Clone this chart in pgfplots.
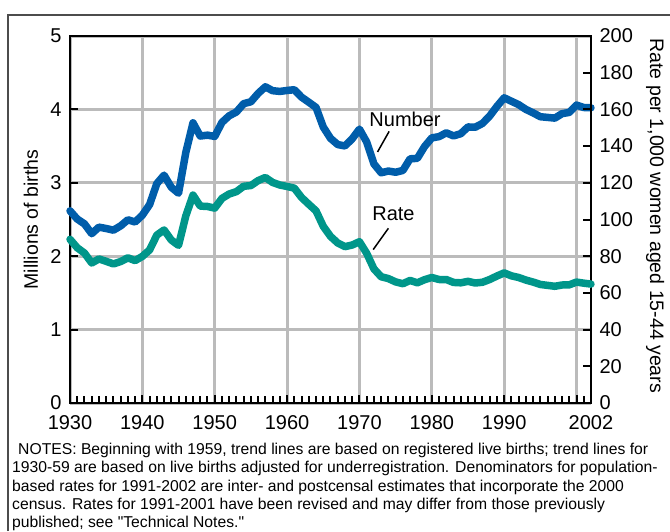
\documentclass[border=0pt]{standalone}
\usepackage{fontspec}
\setmainfont{Liberation Sans}
\usepackage{pgfplots}
\usepackage{pgfplotstable}
\pgfplotsset{compat=1.18}

\definecolor{numblue}{RGB}{0,93,170}
\definecolor{rateteal}{RGB}{0,150,138}
\definecolor{gridgray}{RGB}{187,187,187}

% births in millions, general fertility rate per 1,000 women 15-44
\pgfplotstableread{
year number rate
1930 2.618 89.2
1931 2.506 84.6
1932 2.440 81.7
1933 2.307 76.3
1934 2.396 78.5
1935 2.377 77.2
1936 2.355 75.8
1937 2.413 77.1
1938 2.496 79.1
1939 2.466 77.6
1940 2.559 79.9
1941 2.703 83.4
1942 2.989 91.5
1943 3.104 94.3
1944 2.939 88.8
1945 2.858 85.9
1946 3.411 101.9
1947 3.817 113.3
1948 3.637 107.3
1949 3.649 107.1
1950 3.632 106.2
1951 3.823 111.5
1952 3.913 113.9
1953 3.965 115.2
1954 4.078 118.1
1955 4.104 118.5
1956 4.218 121.2
1957 4.308 122.9
1958 4.255 120.2
1959 4.245 118.8
1960 4.258 118.0
1961 4.268 117.1
1962 4.167 112.0
1963 4.098 108.3
1964 4.027 104.7
1965 3.760 96.3
1966 3.606 90.8
1967 3.521 87.2
1968 3.502 85.2
1969 3.600 86.1
1970 3.731 87.9
1971 3.556 81.6
1972 3.258 73.1
1973 3.137 68.8
1974 3.160 67.8
1975 3.144 66.0
1976 3.168 65.0
1977 3.327 66.8
1978 3.333 65.5
1979 3.494 67.2
1980 3.612 68.4
1981 3.629 67.3
1982 3.681 67.3
1983 3.639 65.7
1984 3.669 65.5
1985 3.761 66.3
1986 3.757 65.4
1987 3.809 65.8
1988 3.910 67.3
1989 4.041 69.2
1990 4.158 70.9
1991 4.111 69.3
1992 4.065 68.4
1993 4.000 67.0
1994 3.953 65.9
1995 3.900 64.6
1996 3.891 64.1
1997 3.881 63.6
1998 3.942 64.3
1999 3.959 64.4
2000 4.059 65.9
2001 4.026 65.3
2002 4.022 64.8
}\births

\pgfplotsset{
  common/.style={
    at={(70pt,128pt)}, anchor=south west,
    scale only axis, width=521pt, height=367pt,
    xmin=1930, xmax=2002,
    major tick length=8pt, minor tick length=7pt,
    every tick/.style={black, line width=2pt},
    axis line style={black, line width=2.5pt},
    ticklabel style={font=\fontsize{20}{24}\selectfont},
    xticklabel shift=9pt, yticklabel shift=5pt,
    /pgf/number format/assume math mode=true,
    clip=false,
  }
}

\begin{document}
\begin{tikzpicture}[x=1pt,y=1pt]
\path[use as bounding box] (0,0) rectangle (670,531);
\draw[line width=1.5pt, black!70] (8,0) -- (8,516) -- (672,516);

\begin{axis}[common,
  tick align=inside,
  ymin=0, ymax=5,
  xtick={1930,1940,...,2000},
  xticklabels={1930,1940,1950,1960,1970,1980,1990,{}},
  extra x ticks={2001,2002},
  extra x tick labels={{},2002},
  extra x tick style={grid=none, major tick length=7pt},
  minor x tick num=9,
  ytick={0,1,...,5},
  xtick pos=left, ytick pos=left,
  xmajorgrids, ymajorgrids,
  major grid style={gridgray, line width=3pt},
  ylabel={Millions of births},
  ylabel style={font=\fontsize{19.5}{24}\selectfont,
    at={(axis description cs:-0.075,0.5)}, anchor=center},
]
\addplot[numblue, line width=7.5pt, line join=round, line cap=round]
  table[x=year, y=number] {\births};
\node[font=\fontsize{20}{24}\selectfont] at (axis cs:1976.3,3.87) {Number};
\draw[line width=1.5pt] (axis cs:1974.1,3.70) -- (axis cs:1972.5,3.42);
\node[font=\fontsize{20}{24}\selectfont] at (axis cs:1974.7,2.575) {Rate};
\draw[line width=1.5pt] (axis cs:1974.0,2.38) -- (axis cs:1971.9,2.09);
\end{axis}

\begin{axis}[common,
  ymin=0, ymax=200,
  hide x axis,
  axis y line*=right,
  tick align=inside,
  ytick={0,20,...,200},
  ylabel={Rate per 1,000 women aged 15-44 years},
  ylabel style={font=\fontsize{19.5}{24}\selectfont, rotate=180,
    at={(axis description cs:1.123,0.51)}, anchor=center},
]
\addplot[rateteal, line width=7.5pt, line join=round, line cap=round]
  table[x=year, y=rate] {\births};
\end{axis}

\node[anchor=north west, align=left, inner sep=0pt,
  font=\fontsize{15.7}{18.3}\selectfont] at (12,88) {%
\hspace{6pt}NOTES: Beginning with 1959, trend lines are based on registered live births; trend lines for\\
1930-59 are based on live births adjusted for underregistration. Denominators for population-\\
based rates for 1991-2002 are inter- and postcensal estimates that incorporate the 2000\\
census. Rates for 1991-2001 have been revised and may differ from those previously\\
published; see \textquotedbl Technical Notes.\textquotedbl};
\end{tikzpicture}
\end{document}
